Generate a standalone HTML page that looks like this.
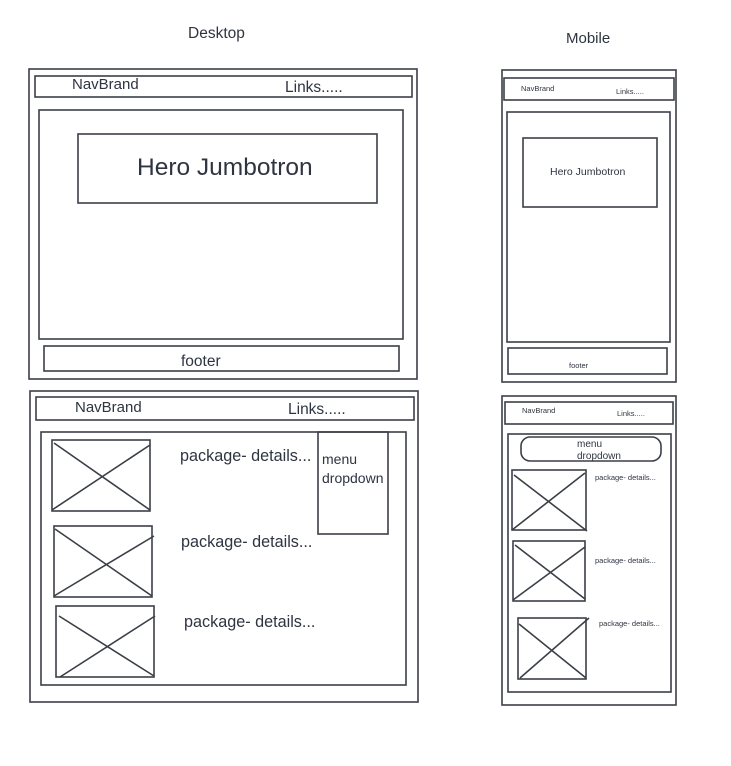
<!DOCTYPE html>
<html><head><style>
html,body{margin:0;padding:0;background:#fff;}
svg{display:block;}
text{font-family:"Liberation Sans",sans-serif;fill:#2e3440;}
</style></head><body>
<svg width="731" height="766" viewBox="0 0 731 766" xmlns="http://www.w3.org/2000/svg">
<g fill="none" stroke="#3b3f47" stroke-width="1.6">
<rect x="29" y="69" width="388" height="310"/>
<rect x="35" y="76" width="377" height="21"/>
<rect x="39" y="110" width="364" height="229"/>
<rect x="78" y="134" width="299" height="69"/>
<rect x="44" y="346" width="355" height="25"/>
<rect x="30" y="391" width="388" height="311"/>
<rect x="36" y="397" width="378" height="23"/>
<rect x="41" y="432" width="365" height="253"/>
<rect x="318" y="432" width="70" height="102"/>
<rect x="52" y="440" width="98" height="71"/>
<path d="M54 443 L150 510 M52 510 L150 445"/>
<rect x="54" y="526" width="98" height="71"/>
<path d="M55 529 L152 596 M54 596 L154 536"/>
<rect x="56" y="606" width="98" height="71"/>
<path d="M59 616 L154 676 M60 677 L155 616"/>
<rect x="502" y="70" width="174" height="312"/>
<rect x="504" y="78" width="170" height="22"/>
<rect x="507" y="112" width="163" height="230"/>
<rect x="523" y="138" width="134" height="69"/>
<rect x="508" y="348" width="159" height="26"/>
<rect x="502" y="396" width="174" height="309"/>
<rect x="505" y="402" width="168" height="22"/>
<rect x="508" y="434" width="163" height="258"/>
<rect x="521" y="437" width="140" height="24" rx="9"/>
<rect x="512" y="470" width="74" height="60"/>
<path d="M514 475 L587 531 M512 530 L585 473"/>
<rect x="513" y="541" width="72" height="60"/>
<path d="M515 545 L585 599 M513 600 L585 547"/>
<rect x="518" y="618" width="68" height="61"/>
<path d="M519 624 L586 678 M520 678 L589 618"/>
</g>
<text x="188" y="38" font-size="15.5">Desktop</text>
<text x="566" y="43" font-size="15">Mobile</text>
<text x="72" y="89" font-size="15">NavBrand</text>
<text x="285" y="92" font-size="15.5">Links.....</text>
<text x="137" y="175" font-size="24.5">Hero Jumbotron</text>
<text x="181" y="366" font-size="15.5">footer</text>
<text x="75" y="412" font-size="15">NavBrand</text>
<text x="288" y="414" font-size="15.5">Links.....</text>
<text x="322" y="464" font-size="14">menu</text>
<text x="322" y="483" font-size="14">dropdown</text>
<text x="180" y="461" font-size="16.2">package- details...</text>
<text x="181" y="547" font-size="16.2">package- details...</text>
<text x="184" y="627" font-size="16.2">package- details...</text>
<text x="521" y="91" font-size="7.5">NavBrand</text>
<text x="616" y="94" font-size="7.5">Links.....</text>
<text x="550" y="175" font-size="10.5">Hero Jumbotron</text>
<text x="569" y="368" font-size="7.5">footer</text>
<text x="522" y="413" font-size="7.5">NavBrand</text>
<text x="617" y="416" font-size="7.5">Links.....</text>
<text x="577" y="447" font-size="10">menu</text>
<text x="577" y="459" font-size="10">dropdown</text>
<text x="595" y="480" font-size="7.5">package- details...</text>
<text x="595" y="563" font-size="7.5">package- details...</text>
<text x="599" y="626" font-size="7.5">package- details...</text>
</svg>
</body></html>
